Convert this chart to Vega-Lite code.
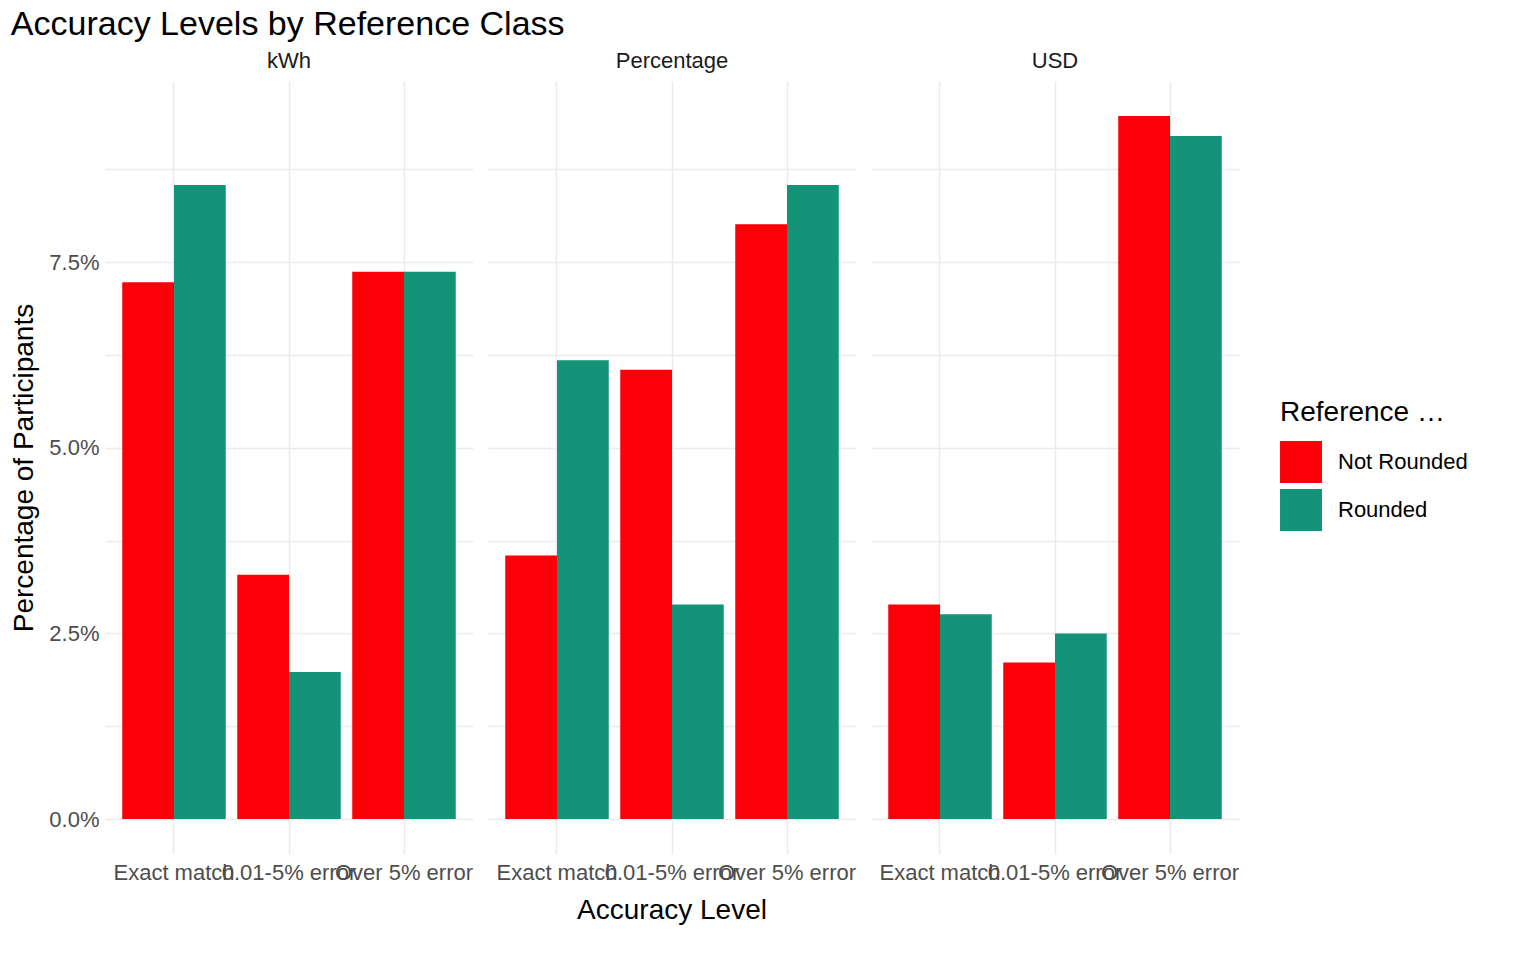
{
  "$schema": "https://vega.github.io/schema/vega-lite/v6.json",
  "title": {"text": "Accuracy Levels by Reference Class", "anchor": "start", "fontSize": 34, "fontWeight": "normal", "font": "Liberation Sans", "color": "#000000", "offset": 8},
  "background": "#ffffff",
  "padding": {"left": 10, "top": 8, "right": 10, "bottom": 10},
  "config": {
    "font": "Liberation Sans",
    "view": {"stroke": null},
    "axis": {"labelFont": "Liberation Sans", "titleFont": "Liberation Sans", "labelFontSize": 22, "labelColor": "#4d4d4d", "titleFontSize": 28, "titleFontWeight": "normal", "titleColor": "#000000", "gridColor": "#ebebeb", "gridWidth": 1.5, "domain": false, "ticks": false},
    "header": {"labelFontSize": 22, "labelColor": "#1a1a1a", "labelFont": "Liberation Sans", "labelPadding": 8, "titleFont": "Liberation Sans", "titleFontSize": 28, "titleFontWeight": "normal", "titleColor": "#000000"},
    "legend": {"titleFontSize": 28, "titleFontWeight": "normal", "titleFont": "Liberation Sans", "labelFont": "Liberation Sans", "labelFontSize": 22, "labelColor": "#000000", "symbolType": "square", "symbolSize": 1760, "symbolStrokeWidth": 0, "rowPadding": 6, "titlePadding": 14, "labelOffset": 16}
  },
  "data": {"values": [
    {"unit": "kWh", "level": "Exact match", "cls": "Not Rounded", "pct": 0.0723},
    {"unit": "kWh", "level": "Exact match", "cls": "Rounded", "pct": 0.0854},
    {"unit": "kWh", "level": "0.01-5% error", "cls": "Not Rounded", "pct": 0.0329},
    {"unit": "kWh", "level": "0.01-5% error", "cls": "Rounded", "pct": 0.0198},
    {"unit": "kWh", "level": "Over 5% error", "cls": "Not Rounded", "pct": 0.0737},
    {"unit": "kWh", "level": "Over 5% error", "cls": "Rounded", "pct": 0.0737},
    {"unit": "Percentage", "level": "Exact match", "cls": "Not Rounded", "pct": 0.0355},
    {"unit": "Percentage", "level": "Exact match", "cls": "Rounded", "pct": 0.0618},
    {"unit": "Percentage", "level": "0.01-5% error", "cls": "Not Rounded", "pct": 0.0605},
    {"unit": "Percentage", "level": "0.01-5% error", "cls": "Rounded", "pct": 0.0289},
    {"unit": "Percentage", "level": "Over 5% error", "cls": "Not Rounded", "pct": 0.0801},
    {"unit": "Percentage", "level": "Over 5% error", "cls": "Rounded", "pct": 0.0854},
    {"unit": "USD", "level": "Exact match", "cls": "Not Rounded", "pct": 0.0289},
    {"unit": "USD", "level": "Exact match", "cls": "Rounded", "pct": 0.0276},
    {"unit": "USD", "level": "0.01-5% error", "cls": "Not Rounded", "pct": 0.0211},
    {"unit": "USD", "level": "0.01-5% error", "cls": "Rounded", "pct": 0.0250},
    {"unit": "USD", "level": "Over 5% error", "cls": "Not Rounded", "pct": 0.0947},
    {"unit": "USD", "level": "Over 5% error", "cls": "Rounded", "pct": 0.0920}
  ]},
  "facet": {"column": {"field": "unit", "type": "nominal", "sort": ["kWh", "Percentage", "USD"], "title": "Accuracy Level", "header": {"titleOrient": "bottom", "labelOrient": "top", "titlePadding": 4}}},
  "spacing": 15,
  "spec": {
    "width": 368,
    "height": 773,
    "mark": {"type": "bar"},
    "encoding": {
      "x": {"field": "level", "type": "nominal", "sort": ["Exact match", "0.01-5% error", "Over 5% error"],
        "scale": {"paddingInner": 0.1, "paddingOuter": 0.15},
        "axis": {"title": null, "labelAngle": 0, "labelOverlap": false, "grid": true, "bandPosition": 0.5, "labelPadding": 8}},
      "xOffset": {"field": "cls", "type": "nominal", "sort": ["Not Rounded", "Rounded"]},
      "y": {"field": "pct", "type": "quantitative", "scale": {"domain": [-0.0047, 0.0994], "nice": false, "zero": false},
        "axis": {"title": "Percentage of Participants", "values": [0, 0.0125, 0.025, 0.0375, 0.05, 0.0625, 0.075, 0.0875], "format": ".1%", "labelExpr": "(round(datum.value*10000) % 250 == 0) ? datum.label : ''", "titlePadding": 10, "labelPadding": 6}},
      "color": {"field": "cls", "type": "nominal", "title": "Reference Class",
        "scale": {"domain": ["Not Rounded", "Rounded"], "range": ["#FB0007", "#139377"]},
        "legend": {"orient": "none", "legendX": 1175, "legendY": 318}}
    }
  },
  "resolve": {"axis": {"y": "shared"}}
}
